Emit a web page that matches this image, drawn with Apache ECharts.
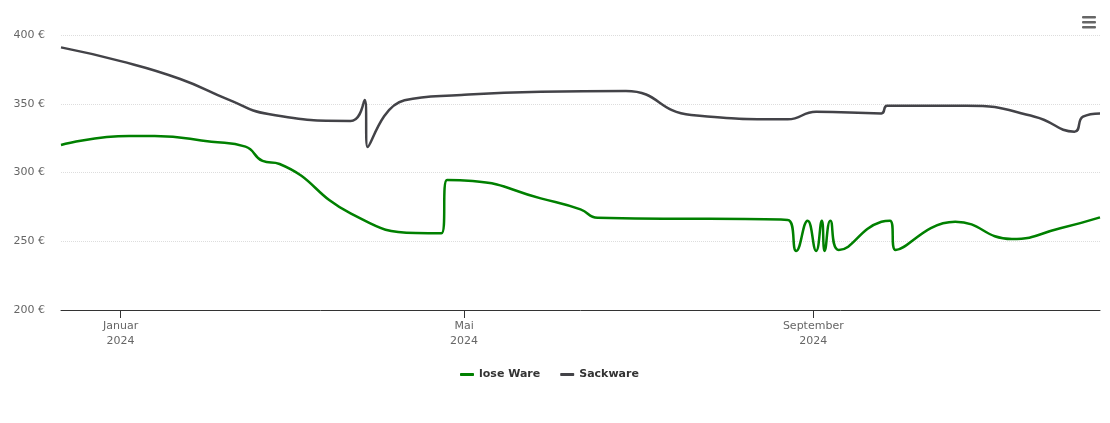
<!DOCTYPE html>
<html>
<head>
<meta charset="utf-8">
<script src="https://cdn.jsdelivr.net/npm/echarts@6/dist/echarts.min.js"></script>
<style>
html,body{margin:0;padding:0;background:#fff;}
#chart{width:1110px;height:423px;}
</style>
</head>
<body>
<div id="chart"></div>
<script>
// ---- data ----
const seriesNames = ['lose Ware', 'Sackware'];

const loseDates = ['2023-12-11','2024-01-04','2024-01-13','2024-02-02','2024-02-14','2024-02-20','2024-02-26','2024-03-22','2024-04-14','2024-04-23','2024-04-25','2024-05-04','2024-05-28','2024-06-11','2024-06-17','2024-08-23','2024-08-26','2024-08-30','2024-09-02','2024-09-04','2024-09-05','2024-09-07','2024-09-10','2024-09-25','2024-09-28','2024-09-30','2024-10-21','2024-11-10','2024-11-27','2024-12-11'];
const loseValues = [320,326.5,326.5,322.4,318.8,308.4,306.2,270.3,256,255.8,294.5,293.8,281.2,273.2,267.1,265.5,243,265,243,265,243,265,243.6,264.2,265,243.6,264.2,251.6,259.4,267.4];

const sackDates = ['2023-12-11','2024-01-01','2024-01-22','2024-02-08','2024-02-22','2024-03-22','2024-03-27','2024-03-28','2024-04-10','2024-04-30','2024-05-28','2024-06-27','2024-07-20','2024-08-23','2024-09-02','2024-09-25','2024-09-27','2024-10-25','2024-11-18','2024-12-02','2024-12-05','2024-12-11'];
const sackValues = [391,381,368,353,342.5,337.5,352.7,318.5,352.5,356.4,358.8,359.3,341.8,338.7,344.2,343,348.6,348.6,340.6,329.7,340.6,343];

const xTickDates = ['2024-01-01','2024-05-01','2024-09-01'];
const monthNames = ['Januar','Februar','März','April','Mai','Juni','Juli','August','September','Oktober','November','Dezember'];
const xMin = '2023-12-11';
const xMax = '2024-12-11';
const yMin = 200, yMax = 400, yStep = 50;

// ---- chart ----
const ts = d => new Date(d + 'T00:00:00').getTime();
const toPairs = (d, v) => d.map((x, i) => [ts(x), v[i]]);
const tickTs = xTickDates.map(ts);

const chart = echarts.init(document.getElementById('chart'), null, {renderer: 'canvas'});
chart.setOption({
  animation: false,
  backgroundColor: '#ffffff',
  textStyle: {fontFamily: 'DejaVu Sans, Verdana, sans-serif'},
  grid: {left: 61, right: 10, top: 35, bottom: 113},
  xAxis: {
    type: 'value',
    min: ts(xMin),
    max: ts(xMax),
    axisLine: {lineStyle: {color: '#333333', width: 1}},
    axisTick: {show: true, length: 8, interval: 0, lineStyle: {color: '#333333'}, customValues: tickTs},
    axisLabel: {
      customValues: tickTs, interval: 0, hideOverlap: false,
      color: '#666666', fontSize: 11, lineHeight: 15, margin: 9,
      showMinLabel: true, showMaxLabel: true,
      formatter: function (v) { const d = new Date(v); return monthNames[d.getMonth()] + '\n' + d.getFullYear(); }
    },
    splitLine: {show: false}
  },
  yAxis: {
    type: 'value', min: yMin, max: yMax, interval: yStep,
    axisLine: {show: false}, axisTick: {show: false},
    axisLabel: {color: '#666666', fontSize: 11, margin: 16, formatter: '{value} €'},
    splitLine: {show: true, lineStyle: {color: '#dddddd', type: 'dotted', width: 1}}
  },
  legend: {
    bottom: 38, left: 455, itemGap: 20, itemWidth: 14, itemHeight: 3,
    icon: 'roundRect',
    textStyle: {color: '#333333', fontSize: 11, fontWeight: 'bold'},
    data: seriesNames
  },
  graphic: [
    {type: 'rect', right: 14, top: 16, shape: {width: 14, height: 2.5, r: 1}, style: {fill: '#666666'}},
    {type: 'rect', right: 14, top: 21, shape: {width: 14, height: 2.5, r: 1}, style: {fill: '#666666'}},
    {type: 'rect', right: 14, top: 26, shape: {width: 14, height: 2.5, r: 1}, style: {fill: '#666666'}}
  ],
  series: [
    {name: seriesNames[0], type: 'line', data: toPairs(loseDates, loseValues), smooth: 0.5, showSymbol: false,
     lineStyle: {color: '#008000', width: 2.5}, itemStyle: {color: '#008000'}},
    {name: seriesNames[1], type: 'line', data: toPairs(sackDates, sackValues), smooth: 0.5, showSymbol: false,
     lineStyle: {color: '#434348', width: 2.5}, itemStyle: {color: '#434348'}}
  ]
});
</script>
</body>
</html>
